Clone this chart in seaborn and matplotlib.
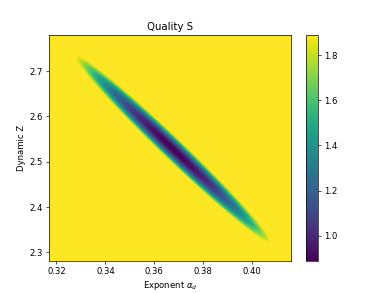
import numpy as np
import matplotlib
matplotlib.use("Agg")
import matplotlib.pyplot as plt
import seaborn as sns

# Axis ranges of the scanned grid
alpha_range = [0.3169, 0.4160]
z_range = [2.2817, 2.7790]

# Quality landscape parameters
s_min = 0.889            # darkest value at the valley floor
s_max = 1.889            # saturation value (yellow plateau)
valley_center = [0.3675, 2.528]   # (alpha, Z) of the minimum
valley_slope = 0.191     # alpha shifts by -slope * dZ along the valley
valley_halfwidth_alpha = 0.0063   # alpha half-width at S = s_max across the valley
valley_halflength_z = 0.207       # Z half-length at S = s_max along the valley

n_alpha = 300
n_z = 300

alpha = np.linspace(alpha_range[0], alpha_range[1], n_alpha)
z = np.linspace(z_range[0], z_range[1], n_z)
A, Zg = np.meshgrid(alpha, z)
da = A - valley_center[0]
dz = Zg - valley_center[1]
q = ((da + valley_slope * dz) / valley_halfwidth_alpha) ** 2 + (dz / valley_halflength_z) ** 2
S = np.minimum(s_min + (s_max - s_min) * q, s_max)

cmap = sns.color_palette("viridis", as_cmap=True)

fig, ax = plt.subplots(figsize=(6.4, 4.8), dpi=61.1)
im = ax.imshow(S, origin="lower", aspect="auto", cmap=cmap,
               extent=[alpha_range[0], alpha_range[1], z_range[0], z_range[1]],
               vmin=s_min, vmax=s_max, interpolation="bilinear")
fig.colorbar(im, ax=ax)
ax.set_title("Quality S")
ax.set_xlabel(r"Exponent $\alpha_d$")
ax.set_ylabel("Dynamic Z")
ax.set_xticks([0.32, 0.34, 0.36, 0.38, 0.40])
ax.set_yticks([2.3, 2.4, 2.5, 2.6, 2.7])
fig.savefig("out.png", dpi=61.1)
